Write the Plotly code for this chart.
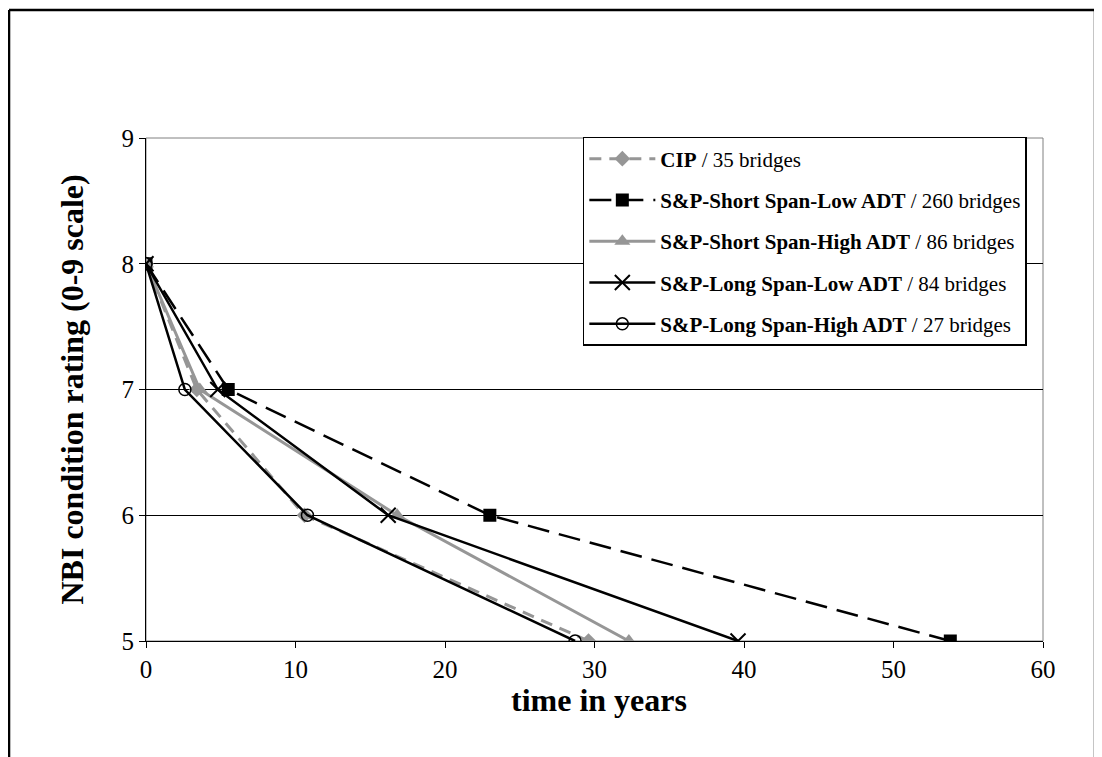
import plotly.graph_objects as go

ratings = [8, 7, 6, 5]
cip_years = [0, 3.4, 10.6, 29.6]
short_low_years = [0, 5.5, 23.0, 53.8]
short_high_years = [0, 3.6, 16.8, 32.3]
long_low_years = [0, 4.8, 16.2, 39.6]
long_high_years = [0, 2.6, 10.8, 28.7]

names = [
    "<b>CIP</b> / 35 bridges",
    "<b>S&P-Short Span-Low ADT</b> / 260 bridges",
    "<b>S&P-Short Span-High ADT</b> / 86 bridges",
    "<b>S&P-Long Span-Low ADT</b> / 84 bridges",
    "<b>S&P-Long Span-High ADT</b> / 27 bridges",
]
x_ticks = [0, 10, 20, 30, 40, 50, 60]
y_ticks = [5, 6, 7, 8, 9]
x_title = "<b>time in years</b>"
y_title = "<b>NBI condition rating (0-9 scale)</b>"

GRAY = "#969696"
FONT = "Liberation Serif"

fig = go.Figure()
styles = [
    (cip_years, dict(color=GRAY, width=3, dash="12px,8px"), dict(symbol="diamond", size=12, color=GRAY)),
    (short_low_years, dict(color="black", width=2.5, dash="22px,10px"), dict(symbol="square", size=13, color="black")),
    (short_high_years, dict(color=GRAY, width=3), dict(symbol="triangle-up", size=14, color=GRAY)),
    (long_low_years, dict(color="black", width=2.5), dict(symbol="x-thin", size=15, color="black", line=dict(color="black", width=2))),
    (long_high_years, dict(color="black", width=2.5), dict(symbol="circle-open", size=12, color="black", line=dict(color="black", width=1.5))),
]
for i, (xs, ln, mk) in enumerate(styles):
    fig.add_trace(go.Scatter(x=xs, y=ratings, mode="lines+markers", name=names[i],
                             line=ln, marker=mk, legendgroup=str(i)))

# page body has an 8px offset, so margins are shifted accordingly
fig.update_layout(
    width=1102, height=757,
    margin=dict(l=138, r=67, t=130, b=124, autoexpand=False),
    paper_bgcolor="white", plot_bgcolor="white",
    font=dict(family=FONT, color="black", size=25),
    legend=dict(x=0.487, y=1.002, xanchor="left", yanchor="top",
                bgcolor="white", bordercolor="black", borderwidth=1.5,
                font=dict(family=FONT, size=21), tracegroupgap=11,
                itemwidth=66),
    showlegend=True,
)
fig.update_xaxes(range=[0, 60], tickvals=x_ticks, showgrid=False, zeroline=False,
                 showline=True, linecolor="black", linewidth=1,
                 ticks="outside", ticklen=6, tickcolor="black",
                 tickfont=dict(size=25, family=FONT), automargin=False)
fig.update_yaxes(range=[5, 9], tickvals=y_ticks, showgrid=True, gridcolor="black", gridwidth=1,
                 zeroline=False, showline=True, linecolor="black", linewidth=1,
                 ticks="outside", ticklen=6, tickcolor="black",
                 tickfont=dict(size=25, family=FONT), automargin=False)

fig.add_annotation(text=x_title, xref="paper", yref="paper", x=0.505, y=-0.117,
                   xanchor="center", yanchor="middle", showarrow=False,
                   font=dict(size=32, family=FONT, color="black"))
fig.add_annotation(text=y_title, xref="paper", yref="paper", x=-0.0825, y=0.5,
                   xanchor="center", yanchor="middle", showarrow=False, textangle=-90,
                   font=dict(size=32, family=FONT, color="black"))

# plot area border (gray)
fig.add_shape(type="rect", xref="paper", yref="paper", x0=0, x1=1, y0=0, y1=1,
              line=dict(color="#808080", width=1), layer="below")
# outer chart border (left, top, right), kept inside the drawable figure
L, R, T, B = -0.1527, 1.0580, 1.2545, -0.245
for x0, y0, x1, y1 in [(L, B, L, T), (L, T, R, T), (R, T, R, B)]:
    fig.add_shape(type="line", xref="paper", yref="paper", x0=x0, y0=y0, x1=x1, y1=y1,
                  line=dict(color="black", width=2.5))

fig.write_html("out.html")
